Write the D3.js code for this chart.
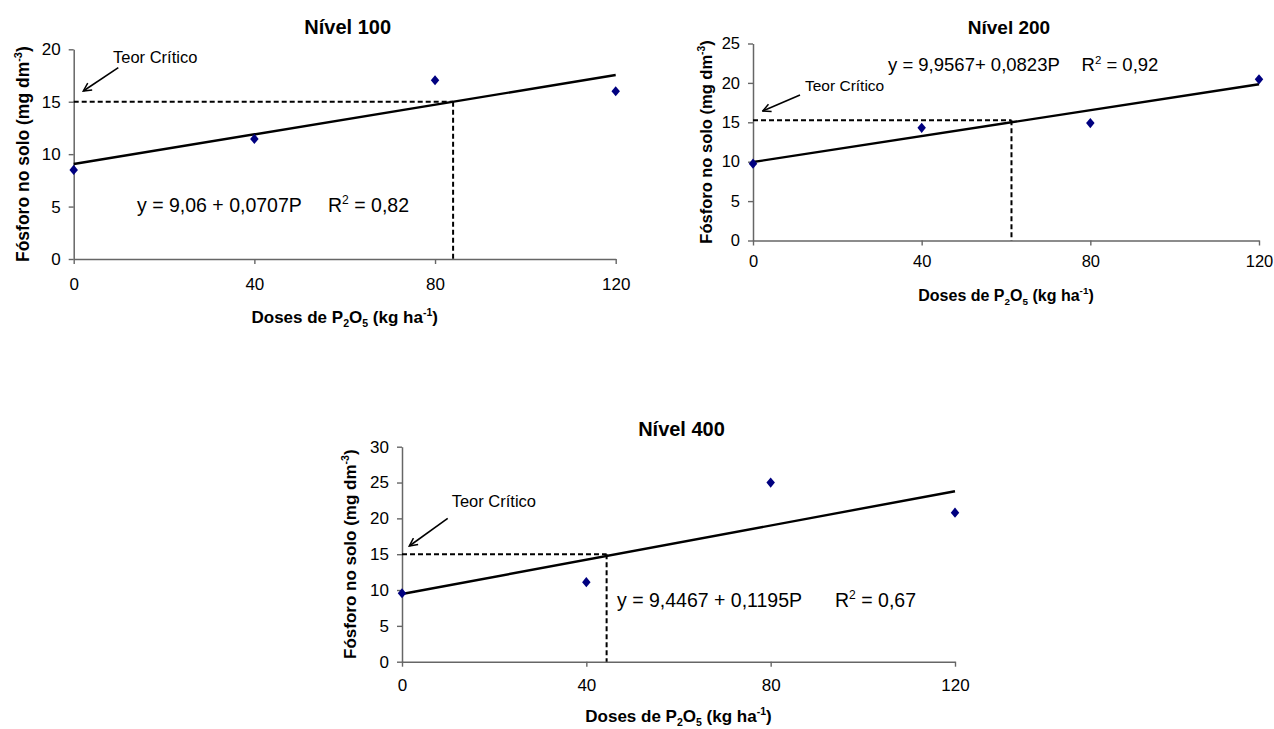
<!DOCTYPE html>
<html><head><meta charset="utf-8">
<script src="https://cdn.jsdelivr.net/npm/d3@7"></script>
<style>body{margin:0;background:#fff} svg{display:block} text{font-family:"Liberation Sans",Arial,sans-serif;fill:#000}</style>
</head><body><svg id="c" width="1274" height="729"></svg>
<script>
// ---- data ----
const doses = [0, 40, 80, 120];
const xTicks = [0, 40, 80, 120];
const titles = ["Nível 100", "Nível 200", "Nível 400"];
const fosforo100 = [8.5, 11.45, 17.05, 16.0];
const fosforo200 = [9.75, 14.3, 14.9, 20.45];
const fosforo400 = [9.55, 11.1, 25.0, 20.8];
const series = [fosforo100, fosforo200, fosforo400];
const intercepts = [9.06, 9.9567, 9.4467];
const slopes = [0.0707, 0.0823, 0.1195];
const r2Labels = ["0,82", "0,92", "0,67"];
const eqLabels = ["y = 9,06 + 0,0707P", "y = 9,9567+ 0,0823P", "y = 9,4467 + 0,1195P"];
const yMax = [20, 25, 30];
const yTicks = [[0,5,10,15,20],[0,5,10,15,20,25],[0,5,10,15,20,25,30]];
const teorCritico = [15, 15.25, 15];
const doseCritica = [84, 61.3, 44.4];
const teorLabel = "Teor Crítico";

// ---- layout ----
const layout = [
 {x0:73.7, x1:615.7, yTop:49.3, yBot:259, titleY:27, titleFs:20, eqX:137, eqY:205, r2X:328, eqFs:19.5, teorX:113, teorY:57, teorFs:16.5, arrow:[118.3,67.7,83.3,91], ylabX:23, ylabFs:17.5, xlabY:317, xlabFs:17, tickFs:17, xPad:14},
 {x0:753, x1:1259, yTop:43.5, yBot:240.5, titleY:27, titleFs:19, eqX:888, eqY:65, r2X:1081.5, eqFs:18.5, teorX:805, teorY:85.5, teorFs:15.5, arrow:[800,95,762.7,111], ylabX:706.5, ylabFs:16.5, xlabY:295, xlabFs:16, tickFs:16.5, xPad:10},
 {x0:402, x1:955, yTop:446.7, yBot:661.7, titleY:429, titleFs:20, eqX:617, eqY:600, r2X:835, eqFs:19.5, teorX:451.7, teorY:501.7, teorFs:16.5, arrow:[447.7,518.3,409.3,546], ylabX:350, ylabFs:17, xlabY:716, xlabFs:17, tickFs:17, xPad:12}
];

const svg = d3.select("#c");
svg.append("defs").append("marker")
  .attr("id","ah").attr("viewBox","-9 -5 10 10").attr("refX",0).attr("refY",0)
  .attr("markerWidth",10).attr("markerHeight",10).attr("markerUnits","userSpaceOnUse")
  .attr("orient","auto")
  .append("path").attr("d","M-8,-4 L0,0 L-8,4").attr("fill","none").attr("stroke","#000").attr("stroke-width",1.5);

layout.forEach((L, i) => {
  const g = svg.append("g");
  const x = d3.scaleLinear().domain([0,120]).range([L.x0, L.x1]);
  const y = d3.scaleLinear().domain([0,yMax[i]]).range([L.yBot, L.yTop]);

  // axes
  const ya = g.append("g").attr("transform",`translate(${L.x0},0)`)
    .call(d3.axisLeft(y).tickValues(yTicks[i]).tickSize(5).tickSizeOuter(0).tickPadding(8).tickFormat(d3.format("d")));
  const xa = g.append("g").attr("transform",`translate(0,${L.yBot})`)
    .call(d3.axisBottom(x).tickValues(xTicks).tickSize(5).tickSizeOuter(0).tickPadding(L.xPad).tickFormat(d3.format("d")));
  [ya, xa].forEach(a => {
    a.select(".domain").attr("stroke","#666").attr("stroke-width",1.5);
    a.selectAll(".tick line").attr("stroke","#666").attr("stroke-width",1.4);
    a.selectAll(".tick text").attr("font-size",L.tickFs).attr("font-family","Liberation Sans, Arial, sans-serif").attr("fill","#000");
  });

  // critical dashed lines
  const yc = teorCritico[i], xc = doseCritica[i];
  g.append("line").attr("x1",x(0)).attr("x2",x(xc)).attr("y1",y(yc)).attr("y2",y(yc))
    .attr("stroke","#000").attr("stroke-width",2).attr("stroke-dasharray","5,3");
  g.append("line").attr("x1",x(xc)).attr("x2",x(xc)).attr("y1",y(yc)).attr("y2",y(0))
    .attr("stroke","#000").attr("stroke-width",2).attr("stroke-dasharray","5,3");

  // regression line
  const reg = [0,120].map(d => [d, intercepts[i] + slopes[i]*d]);
  g.append("path").attr("d", d3.line().x(d=>x(d[0])).y(d=>y(d[1]))(reg))
    .attr("stroke","#000").attr("stroke-width",2.4).attr("fill","none");

  // points
  g.selectAll(".pt").data(doses.map((d,k)=>[d, series[i][k]])).enter().append("path")
    .attr("d", d3.symbol().type(d3.symbolDiamond2).size(46)())
    .attr("transform", d => `translate(${x(d[0])},${y(d[1])}) scale(1,1.2)`)
    .attr("fill","#000080");

  // title
  g.append("text").attr("x",(L.x0+L.x1)/2+3).attr("y",L.titleY).attr("dy","0.35em")
    .attr("text-anchor","middle").attr("font-weight","bold").attr("font-size",L.titleFs).text(titles[i]);

  // Teor Critico + arrow
  g.append("text").attr("x",L.teorX).attr("y",L.teorY).attr("dy","0.35em").attr("font-size",L.teorFs).text(teorLabel);
  g.append("line").attr("x1",L.arrow[0]).attr("y1",L.arrow[1]).attr("x2",L.arrow[2]).attr("y2",L.arrow[3])
    .attr("stroke","#000").attr("stroke-width",1.6).attr("marker-end","url(#ah)");

  // equation
  g.append("text").attr("x",L.eqX).attr("y",L.eqY).attr("dy","0.35em").attr("font-size",L.eqFs).text(eqLabels[i]);
  const r = g.append("text").attr("x",L.r2X).attr("y",L.eqY).attr("dy","0.35em").attr("font-size",L.eqFs);
  r.append("tspan").text("R");
  r.append("tspan").attr("font-size",L.eqFs*0.62).attr("dy",-L.eqFs*0.42).text("2");
  r.append("tspan").attr("dy",L.eqFs*0.42).text(" = " + r2Labels[i]);

  // y label
  const cy = (L.yTop + L.yBot)/2;
  const yl = g.append("text").attr("transform",`translate(${L.ylabX},${cy}) rotate(-90)`)
    .attr("text-anchor","middle").attr("dy","0.35em").attr("font-weight","bold").attr("font-size",L.ylabFs);
  yl.append("tspan").text("Fósforo no solo (mg dm");
  yl.append("tspan").attr("font-size",L.ylabFs*0.62).attr("dy",-L.ylabFs*0.42).text("-3");
  yl.append("tspan").attr("dy",L.ylabFs*0.42).text(")");

  // x label
  const xl = g.append("text").attr("x",(L.x0+L.x1)/2).attr("y",L.xlabY).attr("dy","0.35em")
    .attr("text-anchor","middle").attr("font-weight","bold").attr("font-size",L.xlabFs);
  const sub = L.xlabFs*0.62, off = L.xlabFs*0.25, sup = L.xlabFs*0.42;
  xl.append("tspan").text("Doses de P");
  xl.append("tspan").attr("font-size",sub).attr("dy",off).text("2");
  xl.append("tspan").attr("dy",-off).text("O");
  xl.append("tspan").attr("font-size",sub).attr("dy",off).text("5");
  xl.append("tspan").attr("dy",-off).text(" (kg ha");
  xl.append("tspan").attr("font-size",sub).attr("dy",-sup).text("-1");
  xl.append("tspan").attr("dy",sup).text(")");
});
</script>
</body></html>
